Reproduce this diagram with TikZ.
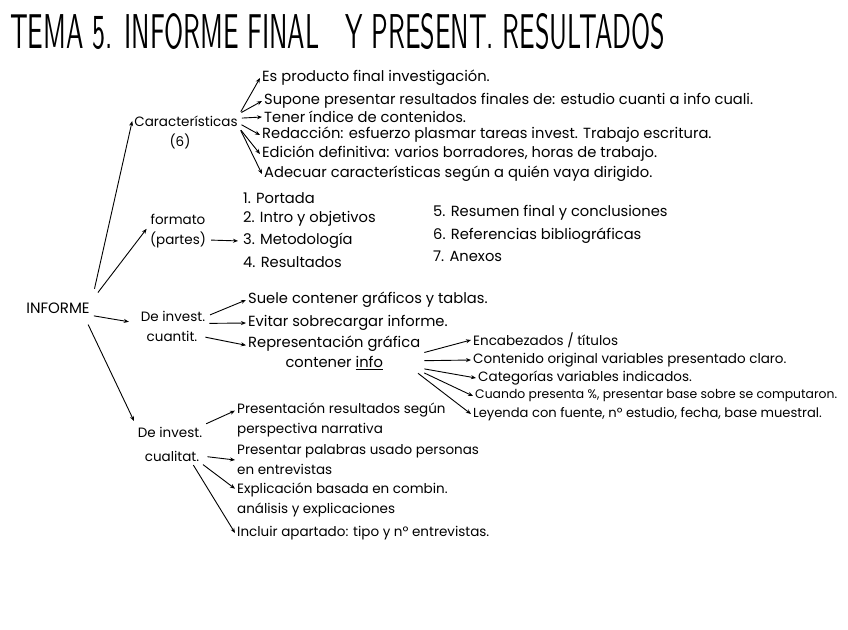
\documentclass[tikz,border=0pt]{standalone}
\usepackage{fontspec}
\setmainfont{Poppins}
\usetikzlibrary{arrows.meta}
\newcommand{\hand}{\fontsize{14.7}{20}\selectfont}
\newcommand{\handsm}{\fontsize{13.5}{20}\selectfont}

\begin{document}
\begin{tikzpicture}[x=1pt,y=-1pt,
  arr/.style={-{Stealth[length=5pt,width=4pt]},line width=0.9pt,shorten <=2pt},
  item/.style={anchor=west,inner sep=2pt,font=\hand,align=left},
  topic/.style={inner sep=2pt,font=\handsm}]
  \useasboundingbox (0,0) rectangle (848,629);
  % title
  \node[anchor=south west,inner sep=0pt] (title) at (10,50)
    {\resizebox{655pt}{35pt}{\sffamily TEMA 5. INFORME FINAL\quad Y PRESENT. RESULTADOS}};
  % root
  \node[topic,font=\fontsize{15}{18}\selectfont] (inf) at (58,308) {INFORME};
  % caracteristicas
  \node[topic] (car) at (186,121) {Características};
  \node[topic] (car6) at (180,141) {(6)};
  \node[item] (e1) at (260,78) {Es producto final investigación.};
  \node[item] (e2) at (262,101) {Supone presentar resultados finales de: estudio cuanti a info cuali.};
  \node[item] (e3) at (262,117) {Tener índice de contenidos.};
  \node[item] (e4) at (260,135) {Redacción: esfuerzo plasmar tareas invest. Trabajo escritura.};
  \node[item] (e5) at (260,154) {Edición definitiva: varios borradores, horas de trabajo.};
  \node[item] (e6) at (262,174) {Adecuar características según a quién vaya dirigido.};
  \foreach \a/\t in {north east/e1,8/e2,3/e3,-3/e4,-8/e5,south east/e6}
    \draw[arr] (car.\a) -- (\t.west);
  % formato
  \node[topic] (fmt) at (178,219) {formato};
  \node[topic] (fmtp) at (178,240) {(partes)};
  \node[item] (f1) at (241,198) {1. Portada};
  \node[item] (f2) at (241,219) {2. Intro y objetivos};
  \node[item] (f3) at (241,241) {3. Metodología};
  \node[item] (f4) at (241,262) {4. Resultados};
  \node[item] (f5) at (431,213) {5. Resumen final y conclusiones};
  \node[item] (f6) at (431,236) {6. Referencias bibliográficas};
  \node[item] (f7) at (431,256) {7. Anexos};
  \draw[arr,shorten <=3pt,shorten >=3pt] (fmtp.east) -- (f3.west);
  % cuantitativa
  \node[topic] (cq1) at (173,316) {De invest.};
  \node[topic] (cq2) at (172,336) {cuantit.};
  \node[item] (q1) at (246,300) {Suele contener gráficos y tablas.};
  \node[item] (q2) at (246,323) {Evitar sobrecargar informe.};
  \node[item,align=center] (grf) at (246,353) {Representación gráfica\\contener \underline{info}};
  \node[item,font=\handsm] (r1) at (471,340) {Encabezados / títulos};
  \node[item,font=\handsm] (r2) at (471,360) {Contenido original variables presentado claro.};
  \node[item,font=\handsm] (r3) at (476,378) {Categorías variables indicados.};
  \node[item,font=\fontsize{12.4}{16}\selectfont] (r4) at (473,396) {Cuando presenta \%, presentar base sobre se computaron.};
  \node[item,font=\fontsize{13.1}{16}\selectfont] (r5) at (471,414) {Leyenda con fuente, nº estudio, fecha, base muestral.};
  \draw[arr,shorten <=3pt] (cq1.east) -- (q1.west);
  \draw[arr] (cq1.south east) -- (q2.west);
  \draw[arr,shorten <=6pt] (cq2.east) -- (grf.175);
  \foreach \a/\t in {east/r1,-5/r2,-10/r3,south east/r4}
    \draw[arr] (grf.\a) -- (\t.west);
  \draw[arr] ([xshift=-6pt]grf.south east) -- (r5.west);
  % cualitativa
  \node[topic] (cl1) at (170,432) {De invest.};
  \node[topic] (cl2) at (172,456) {cualitat.};
  \node[item,font=\handsm] (p1) at (235,420) {Presentación resultados según\\perspectiva narrativa};
  \node[item,font=\handsm] (p2) at (235,460) {Presentar palabras usado personas\\en entrevistas};
  \node[item,font=\handsm] (p3) at (235,500) {Explicación basada en combin.\\análisis y explicaciones};
  \node[item,font=\handsm] (p4) at (235,533) {Incluir apartado: tipo y nº entrevistas.};
  \draw[arr] (cl1.north east) -- (p1.175);
  \draw[arr,shorten <=6pt] (cl2.east) -- (p2.west);
  \draw[arr] (cl2.south east) -- (p3.174);
  \draw[arr] (cl2.-20) -- (p4.west);
  % ramas de INFORME
  \draw[arr,shorten <=12pt] (inf.north east) -- (car.west);
  \draw[arr,shorten <=10pt,shorten >=3pt] (inf.north east) -- (fmt.south west);
  \draw[arr,shorten >=10pt] (inf.south east) -- (cq1.south west);
  \draw[arr,shorten <=10pt,shorten >=4pt] ([xshift=-8pt]inf.south east) -- (cl1.north west);
\end{tikzpicture}
\end{document}
